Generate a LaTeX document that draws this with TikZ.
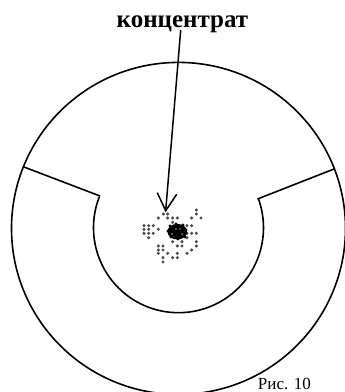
\documentclass[tikz,border=0pt]{standalone}
\usepackage{fontspec}
\setmainfont{Liberation Serif}
\begin{document}
\begin{tikzpicture}[x=1pt,y=-1pt,
  ln/.style={line width=1.6pt,black},
  dot/.style={fill=black!70,draw=none},
  lbl/.style={inner sep=0pt,black}]
\useasboundingbox (0,0) rectangle (345,392);
\node[lbl,font=\bfseries\fontsize{25}{27}\selectfont] (title) at (182.5,24) {концентрат};
\node[lbl,font=\fontsize{17}{19}\selectfont] (fig) at (284.5,384) {Рис. 10};
\draw[ln] (178.5,228.4) ellipse[x radius=167,y radius=166];
\coordinate (a1) at (24,167);
\coordinate (a2) at (100,196);
\coordinate (b1) at (257.5,199);
\coordinate (b2) at (334,169);
\draw[ln] (a1) -- (a2);
\draw[ln] (b1) -- (b2);
\draw[ln] plot[domain=201.5:-20,samples=90,smooth] ({178.5+85*cos(\x)},{227.7+85*sin(\x)});
\coordinate (s) at (180.7,30);
\coordinate (t) at (165.7,210.7);
\draw[line width=1.5pt] (s) -- (t);
\draw[line width=1.5pt,line join=miter] (157.3,192.7) -- (t) -- (176.7,194.3);
\foreach \x/\y in {130/72,143/72,115/84,143/84,158/84,172/84,158/97,229/60,229/72,215/84,243/84,
 72/107,86/107,100/107,72/118,86/118,115/118,72/130,86/130,100/130,86/143,
 201/107,215/107,201/130,215/130,229/130,201/143,
 158/155,186/155,229/155,172/168,186/168,229/168,
 115/168,129/168,115/180,129/180,215/180,115/190,143/190,201/190,158/203,172/190,172/203,129/203,129/216}
  \fill[dot] ({120+\x/3},{190+\y/3}) circle[radius=1.7];
\fill[black] (177.3,231.7) ellipse[x radius=9.8,y radius=7.8];
\foreach \x/\y in {170/226,176/224,183/225,186/230,185/237,178/239,171/237,168/231}
  \fill[black] (\x,\y) circle[radius=1.6];
\foreach \x/\y in {176/229,180/229,172/234,182/234}
  \fill[black!40] (\x,\y) circle[radius=0.9];
\end{tikzpicture}
\end{document}
